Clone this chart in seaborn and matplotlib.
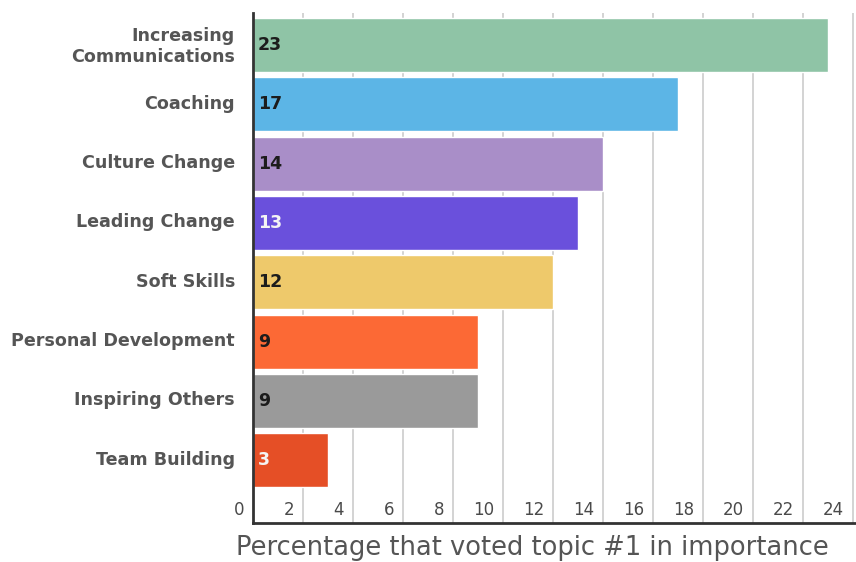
import matplotlib
matplotlib.use("Agg")
import matplotlib.pyplot as plt
import matplotlib.transforms as mtransforms
import seaborn as sns
import pandas as pd

topics = ["Increasing\nCommunications", "Coaching", "Culture Change", "Leading Change",
          "Soft Skills", "Personal Development", "Inspiring Others", "Team Building"]
values = [23, 17, 14, 13, 12, 9, 9, 3]
colors = ["#8fc4a6", "#5cb5e6", "#a98ec8", "#6a50dc", "#eec96b", "#fc6935", "#9a9a9a", "#e54f26"]
label_colors = ["#1c1c1c", "#1c1c1c", "#1c1c1c", "#f4f4f4", "#1c1c1c", "#1c1c1c", "#1c1c1c", "#f4f4f4"]
xticks = list(range(0, 25, 2))

sns.set_style("white")
plt.rcParams["font.family"] = ["DejaVu Sans"]

df = pd.DataFrame({"topic": topics, "value": values})

fig = plt.figure(figsize=(8.56, 5.62), dpi=100)
ax = fig.add_axes([253 / 856, 1 - 523 / 562, 1 - 253 / 856, (523 - 13) / 562])

sns.barplot(data=df, x="value", y="topic", hue="topic", palette=colors,
            width=0.91, legend=False, orient="h", ax=ax, saturation=1)

ax.set_xlim(0, 24.12)
ax.set_ylim(8.06, -0.54)

# vertical grid every 2
for t in xticks[1:]:
    ax.axvline(t, color="#d0d0d0", lw=1.3, zorder=0)

# value labels inside the bars
for i, v in enumerate(values):
    ax.text(0.2, i, str(v), ha="left", va="center", fontsize=12.5, fontweight="bold",
            color=label_colors[i])

# x tick labels sit inside the plot, just left of each gridline
off = mtransforms.ScaledTranslation(-9 / 100, 0, fig.dpi_scale_trans)
trans = mtransforms.blended_transform_factory(ax.transData, ax.transAxes) + off
for t in xticks:
    ax.text(t, 13 / 510, str(t), transform=trans, ha="right", va="center",
            fontsize=12, color="#4a4a4a")
ax.set_xticks([])

ax.tick_params(axis="y", length=0, pad=13)
up = mtransforms.ScaledTranslation(0, 2.5 / 100, fig.dpi_scale_trans)
for lab in ax.get_yticklabels():
    lab.set_fontweight("bold")
    lab.set_fontsize(12.6)
    lab.set_color("#555555")
    lab.set_linespacing(1.25)
    lab.set_verticalalignment("center_baseline")
    lab.set_transform(lab.get_transform() + up)
ax.set_ylabel("")
ax.set_xlabel("")

for s in ["top", "right"]:
    ax.spines[s].set_visible(False)
ax.spines["left"].set_color("#333333")
ax.spines["left"].set_linewidth(2)
ax.spines["bottom"].set_color("#333333")
ax.spines["bottom"].set_linewidth(2)

fig.text(532 / 856, 1 - 548 / 562, "Percentage that voted topic #1 in importance",
         ha="center", va="center", fontsize=18.5, color="#555555")

fig.savefig("out.png", dpi=100)
